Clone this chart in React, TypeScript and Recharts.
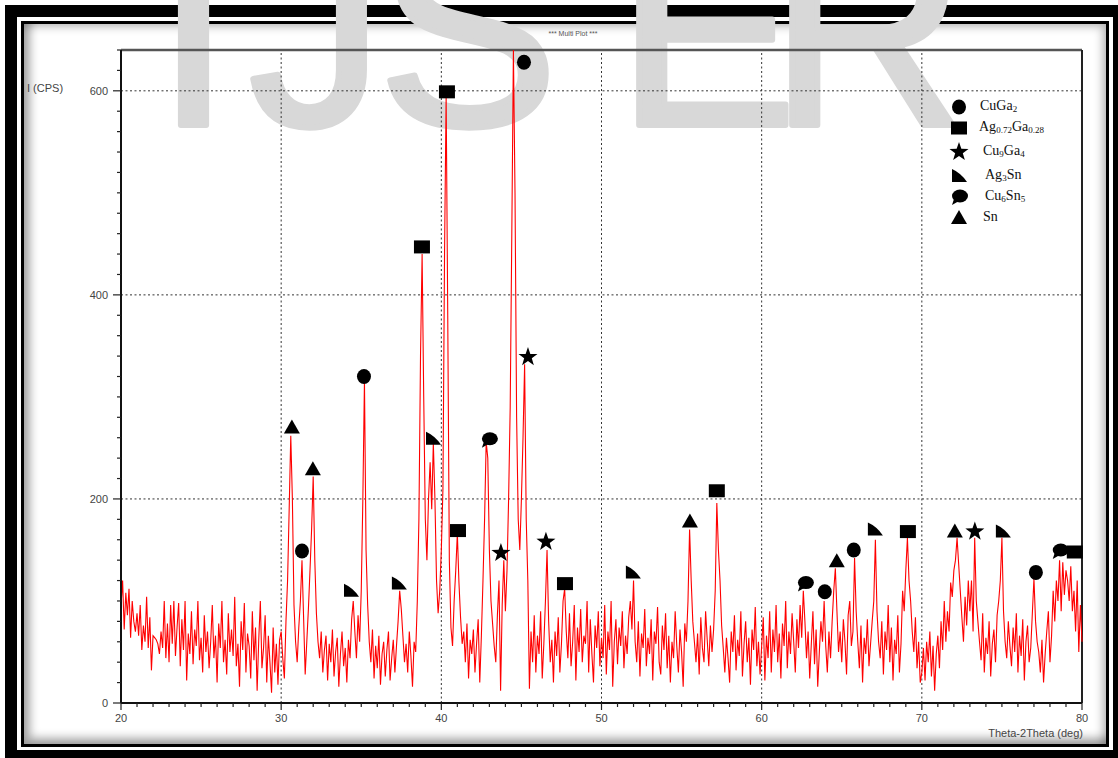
import React from 'react';
import { ComposedChart, Line, Scatter, XAxis, YAxis, ReferenceLine } from 'recharts';

// scan starts at 20 deg, one count every 0.1 deg, one row per degree
const scanStart = 20;
const scanStep = 0.1;

const counts20s = [
  95, 120, 72, 108, 86, 112, 64, 100, 80, 70,
  88, 66, 96, 52, 76, 60, 104, 54, 84, 32,
  66, 64, 62, 58, 48, 70, 54, 100, 44, 78,
  40, 96, 58, 100, 46, 74, 98, 36, 82, 52,
  100, 22, 68, 48, 90, 38, 72, 56, 100, 42,
  64, 30, 86, 50, 70, 34, 60, 96, 44, 66,
  20, 78, 54, 100, 40, 62, 28, 88, 50, 72,
  46, 104, 36, 58, 16, 80, 52, 98, 30, 68,
  56, 24, 90, 42, 74, 12, 62, 100, 34, 54,
  86, 20, 66, 40, 10, 74, 30, 58, 18, 62,
];
const counts30s = [
  70, 44, 24, 80, 120, 190, 262, 200, 96, 60,
  40, 74, 100, 140, 84, 28, 60, 92, 130, 170,
  222, 140, 88, 60, 44, 70, 30, 52, 66, 22,
  58, 40, 72, 26, 50, 64, 16, 48, 70, 36,
  54, 20, 62, 44, 82, 100, 70, 44, 86, 60,
  110, 200, 316, 150, 96, 60, 40, 72, 24, 56,
  34, 66, 18, 48, 60, 26, 52, 70, 22, 44,
  62, 30, 56, 80, 110, 92, 66, 40, 58, 30,
  70, 46, 16, 60, 50, 100, 180, 340, 440, 300,
  180, 140, 200, 236, 190, 255, 200, 120, 88, 110,
];
const counts40s = [
  150, 210, 440, 596, 380, 140, 74, 56, 100, 130,
  166, 118, 84, 58, 70, 40, 78, 24, 62, 48,
  72, 30, 58, 82, 20, 66, 120, 180, 256, 240,
  150, 100, 78, 56, 40, 86, 120, 12, 96, 140,
  90, 130, 200, 290, 460, 640, 500, 280, 180, 150,
  200, 260, 332, 180, 120, 14, 70, 40, 86, 30,
  66, 48, 90, 24, 58, 100, 150, 80, 40, 62,
  20, 70, 46, 84, 30, 58, 100, 112, 70, 44,
  88, 36, 60, 96, 22, 74, 50, 92, 40, 66,
  58, 100, 30, 82, 48, 20, 76, 54, 90, 36,
];
const counts50s = [
  64, 44, 96, 28, 70, 52, 100, 16, 60, 82,
  38, 74, 56, 90, 34, 66, 48, 84, 100, 72,
  120, 60, 40, 80, 26, 68, 54, 92, 36, 64,
  48, 82, 22, 70, 58, 94, 40, 28, 76, 52,
  88, 34, 66, 20, 60, 44, 90, 56, 30, 72,
  50, 16, 78, 60, 100, 170, 120, 80, 60, 40,
  68, 28, 84, 54, 40, 90, 62, 36, 76, 50,
  72, 110, 196, 150, 120, 76, 54, 30, 64, 44,
  20, 70, 50, 86, 32, 62, 46, 90, 26, 58,
  80, 40, 64, 18, 72, 52, 94, 36, 60, 28,
];
const counts60s = [
  56, 84, 22, 66, 44, 90, 30, 72, 50, 96,
  40, 68, 24, 78, 56, 100, 34, 70, 48, 88,
  60, 30, 82, 54, 96, 64, 110, 80, 44, 70,
  24, 58, 90, 38, 72, 16, 50, 80, 60, 100,
  56, 30, 70, 44, 80, 110, 132, 90, 50, 70,
  40, 82, 60, 28, 86, 100, 56, 70, 142, 90,
  60, 34, 76, 20, 64, 48, 82, 36, 58, 80,
  100, 160, 90, 60, 44, 80, 28, 70, 52, 96,
  40, 74, 22, 62, 48, 86, 30, 58, 110, 90,
  130, 162, 120, 100, 70, 50, 84, 34, 60, 20,
];
const counts70s = [
  30, 54, 22, 60, 40, 70, 26, 56, 12, 48,
  66, 34, 80, 52, 100, 60, 90, 70, 118, 104,
  130, 140, 162, 136, 110, 84, 60, 104, 76, 120,
  90, 120, 70, 162, 100, 80, 60, 42, 88, 30,
  64, 48, 80, 26, 58, 72, 40, 86, 100, 120,
  162, 90, 60, 44, 80, 56, 36, 74, 50, 88,
  30, 66, 46, 82, 22, 60, 76, 40, 54, 88,
  122, 80, 60, 50, 30, 62, 20, 48, 70, 90,
  40, 66, 110, 80, 120, 100, 140, 90, 138, 106,
  130, 120, 100, 134, 90, 110, 70, 120, 50, 96,
];
const counts80 = [60];

// phase markers: [2theta, intensity]
const cuGa2Peaks = [[31.3, 149], [35.17, 320], [45.16, 628], [63.94, 109], [65.75, 150], [77.12, 128]];
const agGaPeaks = [[38.79, 447], [40.35, 599], [41.04, 169], [47.72, 117], [57.2, 208], [69.13, 168], [79.55, 148]];
const cu9Ga4Peaks = [[43.72, 147], [45.41, 339], [46.53, 158], [73.31, 168]];
const ag3SnPeaks = [[34.36, 110], [37.35, 117], [39.48, 259], [51.96, 128], [67.07, 170], [75.06, 168]];
const cu6Sn5Peaks = [[42.97, 258], [62.7, 117], [78.61, 149]];
const snPeaks = [[30.67, 270], [31.98, 229], [55.52, 178], [64.69, 139], [72.06, 168]];

const xMajor = [20, 30, 40, 50, 60, 70, 80];
const yMajor = [0, 200, 400, 600];

const allCounts = [...counts20s, ...counts30s, ...counts40s, ...counts50s, ...counts60s, ...counts70s, ...counts80];
const scan = allCounts.map((c, i) => ({ theta: Math.round((scanStart + i * scanStep) * 10) / 10, intensity: c }));
const toPoints = (arr: number[][]) => arr.map(([t, v]) => ({ theta: t, intensity: v }));

const xTicks = Array.from({ length: 61 }, (_, i) => 20 + i);
const yTicks = Array.from({ length: 33 }, (_, i) => i * 20);

const axisFont = '"Liberation Sans", Arial, sans-serif';
const serif = '"Liberation Serif", "Times New Roman", serif';

const XTick = (props: any) => {
  const { x, y, payload } = props;
  const major = xMajor.includes(payload.value);
  return (
    <g>
      <line x1={x} y1={y} x2={x} y2={y + (major ? 7 : 4)} stroke="#222" strokeWidth={1.2} />
      {major && (
        <text x={x} y={y + 19} textAnchor="middle" fontSize={11} fill="#444" fontFamily={axisFont}>
          {payload.value}
        </text>
      )}
    </g>
  );
};

const YTick = (props: any) => {
  const { x, y, payload } = props;
  const major = yMajor.includes(payload.value);
  return (
    <g>
      <line x1={x} y1={y} x2={x - (major ? 8 : 4)} y2={y} stroke="#222" strokeWidth={1.2} />
      {major && (
        <text x={x - 13} y={y + 4} textAnchor="end" fontSize={11} fill="#444" fontFamily={axisFont}>
          {payload.value}
        </text>
      )}
    </g>
  );
};

// marker glyphs
const CircleMark = ({ cx, cy }: any) => <ellipse cx={cx} cy={cy} rx={7} ry={7.5} fill="#000" />;
const SquareMark = ({ cx, cy }: any) => <rect x={cx - 8} y={cy - 6.5} width={16} height={13} fill="#000" />;
const StarMark = ({ cx, cy }: any) => {
  const pts: string[] = [];
  for (let i = 0; i < 10; i++) {
    const r = i % 2 === 0 ? 10 : 4;
    const a = -Math.PI / 2 + (i * Math.PI) / 5;
    pts.push(`${cx + r * Math.cos(a)},${cy + r * Math.sin(a)}`);
  }
  return <polygon points={pts.join(' ')} fill="#000" />;
};
const WedgeMark = ({ cx, cy }: any) => (
  <path d={`M${cx - 7},${cy - 7} L${cx - 7},${cy + 6} L${cx + 8},${cy + 6} Q${cx + 2},${cy - 3} ${cx - 7},${cy - 7} Z`} fill="#000" />
);
const BlobMark = ({ cx, cy }: any) => (
  <g>
    <ellipse cx={cx + 1} cy={cy - 1} rx={8} ry={6.5} fill="#000" />
    <path d={`M${cx - 5},${cy + 2} L${cx - 7},${cy + 8} L${cx},${cy + 4} Z`} fill="#000" />
  </g>
);
const TriangleMark = ({ cx, cy }: any) => (
  <polygon points={`${cx},${cy - 8} ${cx + 8},${cy + 6} ${cx - 8},${cy + 6}`} fill="#000" />
);

const legendRows = [
  { mark: CircleMark, label: <>CuGa<sub>2</sub></>, y: 107, tx: 980 },
  { mark: SquareMark, label: <>Ag<sub>0.72</sub>Ga<sub>0.28</sub></>, y: 128, tx: 979 },
  { mark: StarMark, label: <>Cu<sub>9</sub>Ga<sub>4</sub></>, y: 152, tx: 983 },
  { mark: WedgeMark, label: <>Ag<sub>3</sub>Sn</>, y: 176, tx: 985 },
  { mark: BlobMark, label: <>Cu<sub>6</sub>Sn<sub>5</sub></>, y: 197, tx: 985 },
  { mark: TriangleMark, label: <>Sn</>, y: 218, tx: 983 },
];

const subStyle = `.xrd-legend sub { font-size: 9px; vertical-align: -2px; }`;

export default function App() {
  return (
    <div style={{ position: 'absolute', left: 0, top: 0, width: 1118, height: 758, overflow: 'hidden', background: '#fff' }}>
      <style>{subStyle}</style>
      {/* frame */}
      <div style={{ position: 'absolute', left: 5, top: 5, width: 1120, height: 757, border: '12px solid #000', boxSizing: 'border-box' }} />
      <div
        style={{
          position: 'absolute', left: 21, top: 21, width: 1088, height: 726, border: '3px solid #000',
          boxSizing: 'border-box', boxShadow: 'inset 6px -6px 10px rgba(0,0,0,0.35), inset -4px 3px 8px rgba(0,0,0,0.25)',
        }}
      />
      {/* watermark */}
      <svg width={1118} height={758} style={{ position: 'absolute', left: 0, top: 0 }}>
        <g fill="#d8d8d8" stroke="#d8d8d8" strokeWidth={6} strokeLinejoin="round" fontFamily={axisFont} fontSize={270}>
          <text x={156} y={125}>I</text>
          <text x={249} y={125}>J</text>
          <text x={378} y={125}>S</text>
          <text x={617} y={125}>E</text>
          <text x={770} y={125}>R</text>
        </g>
        <text x={573} y={36} textAnchor="middle" fontSize={7} fill="#555" fontFamily={axisFont}>*** Multi Plot ***</text>
        <text x={27} y={92} fontSize={11} fill="#444" fontFamily={axisFont}>I (CPS)</text>
        <text x={1083} y={737} textAnchor="end" fontSize={11} fill="#444" fontFamily={axisFont}>Theta-2Theta (deg)</text>
      </svg>
      <div style={{ position: 'absolute', left: 0, top: 0 }}>
        <ComposedChart width={1118} height={758} data={scan} margin={{ top: 50, right: 36, bottom: 25, left: 61 }}>
          <XAxis
            dataKey="theta" type="number" domain={[20, 80]} ticks={xTicks} interval={0}
            tickLine={false} tickSize={0} tickMargin={0} tick={<XTick />} height={30}
            axisLine={{ stroke: '#111', strokeWidth: 2 }}
          />
          <YAxis
            type="number" domain={[0, 640]} ticks={yTicks} interval={0} allowDataOverflow
            tickLine={false} tickSize={0} tickMargin={0} tick={<YTick />} width={60}
            axisLine={{ stroke: '#111', strokeWidth: 2 }}
          />
          {yMajor.slice(1).map((v) => (
            <ReferenceLine key={`h${v}`} y={v} stroke="#333" strokeDasharray="2 2.5" />
          ))}
          {xMajor.slice(1, -1).map((v) => (
            <ReferenceLine key={`v${v}`} x={v} stroke="#333" strokeDasharray="2 2.5" />
          ))}
          <ReferenceLine y={640} stroke="#555" strokeWidth={2.5} />
          <ReferenceLine x={80} stroke="#222" strokeWidth={2} />
          <Line dataKey="intensity" stroke="#ff0000" strokeWidth={1.1} dot={false} isAnimationActive={false} />
          <Scatter data={toPoints(cuGa2Peaks)} dataKey="intensity" shape={(p: any) => <CircleMark cx={p.cx} cy={p.cy} />} isAnimationActive={false} />
          <Scatter data={toPoints(agGaPeaks)} dataKey="intensity" shape={(p: any) => <SquareMark cx={p.cx} cy={p.cy} />} isAnimationActive={false} />
          <Scatter data={toPoints(cu9Ga4Peaks)} dataKey="intensity" shape={(p: any) => <StarMark cx={p.cx} cy={p.cy} />} isAnimationActive={false} />
          <Scatter data={toPoints(ag3SnPeaks)} dataKey="intensity" shape={(p: any) => <WedgeMark cx={p.cx} cy={p.cy} />} isAnimationActive={false} />
          <Scatter data={toPoints(cu6Sn5Peaks)} dataKey="intensity" shape={(p: any) => <BlobMark cx={p.cx} cy={p.cy} />} isAnimationActive={false} />
          <Scatter data={toPoints(snPeaks)} dataKey="intensity" shape={(p: any) => <TriangleMark cx={p.cx} cy={p.cy} />} isAnimationActive={false} />
        </ComposedChart>
      </div>
      {/* legend */}
      <svg width={40} height={140} style={{ position: 'absolute', left: 940, top: 95 }}>
        {legendRows.map((r, i) => (
          <r.mark key={i} cx={19} cy={r.y - 95} />
        ))}
      </svg>
      <div className="xrd-legend" style={{ position: 'absolute', left: 0, top: 0, fontFamily: serif, fontSize: 14, color: '#111' }}>
        {legendRows.map((r, i) => (
          <div key={i} style={{ position: 'absolute', left: r.tx, top: r.y - 10, whiteSpace: 'nowrap', lineHeight: '18px' }}>
            {r.label}
          </div>
        ))}
      </div>
    </div>
  );
}
